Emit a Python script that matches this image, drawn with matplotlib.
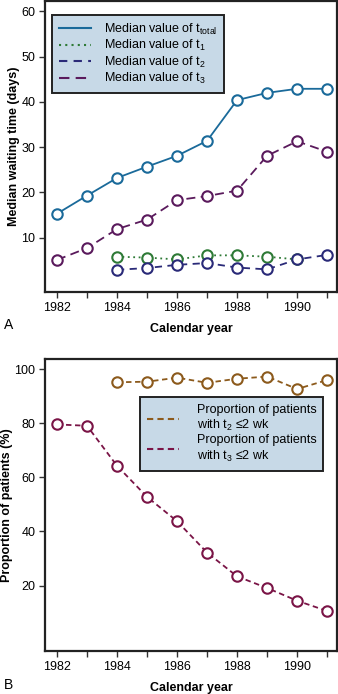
import matplotlib
matplotlib.use("Agg")
import matplotlib.pyplot as plt

plt.rcParams['font.family'] = ['Liberation Sans', 'DejaVu Sans']
plt.rcParams['mathtext.fontset'] = 'custom'
plt.rcParams['mathtext.rm'] = 'Liberation Sans'
plt.rcParams['mathtext.it'] = 'Liberation Sans'

# panel A: median waiting times (days)
years = [1982, 1983, 1984, 1985, 1986, 1987, 1988, 1989, 1990, 1991]
t_total = [15.3, 19.3, 23.2, 25.7, 28.1, 31.4, 40.4, 42.0, 42.9, 42.9]
t3 = [5.1, 7.7, 11.9, 14.0, 18.3, 19.2, 20.4, 28.1, 31.3, 29.0]
years_t1 = [1984, 1985, 1986, 1987, 1988, 1989, 1990]
t1 = [5.8, 5.6, 5.2, 6.1, 6.1, 5.8, 5.2]
years_t2 = [1984, 1985, 1986, 1987, 1988, 1989, 1990, 1991]
t2 = [2.9, 3.3, 4.0, 4.4, 3.4, 3.0, 5.2, 6.2]

# panel B: proportion of patients within 2 weeks (%)
years_p2 = [1984, 1985, 1986, 1987, 1988, 1989, 1990, 1991]
p_t2 = [95.2, 95.4, 96.9, 95.0, 96.5, 97.3, 92.7, 96.0]
p_t3 = [79.6, 79.1, 64.3, 52.8, 43.8, 32.2, 23.4, 19.1, 14.4, 10.6]

W, H = 338, 694
FS = 9
fig = plt.figure(figsize=(W / 100, H / 100), dpi=100)


def px_axes(left, top, right, bottom):
    return fig.add_axes([left / W, 1 - bottom / H, (right - left) / W, (bottom - top) / H])


def style(ax):
    for s in ax.spines.values():
        s.set_linewidth(1.6)
        s.set_color('#222222')
    ax.set_xlim(1981.6, 1991.33)
    ax.set_xticks(years)
    ax.set_xticklabels([str(y) if y % 2 == 0 else '' for y in years])
    ax.tick_params(direction='out', length=4, width=1, labelsize=FS, color='#333333', pad=3)
    ax.set_xlabel('Calendar year', fontsize=FS, fontweight='bold', labelpad=7)


def add_legend(ax, styles, labels, anchor, textpad=1.0):
    handles = [plt.Line2D([], [], color=c, ls=ls, lw=1.5) for c, ls in styles]
    leg = ax.legend(handles, labels, loc='upper left', bbox_to_anchor=anchor, fontsize=FS,
                    fancybox=False, framealpha=1, facecolor='#c7d9e7', edgecolor='#222222',
                    handlelength=2.6, handletextpad=textpad, labelspacing=0.1, borderpad=0.55,
                    borderaxespad=0)
    leg.get_frame().set_linewidth(1.4)


mk = dict(marker='o', markersize=7.5, markerfacecolor='white', markeredgewidth=1.5)

c_tot, c_t1, c_t2, c_t3 = '#1a6a9a', '#2e7a36', '#2a2a78', '#5a1a5c'
ls_tot, ls_t1, ls_t2, ls_t3 = '-', (0, (1, 2)), (0, (4, 3)), (0, (5, 3))

# ---- panel A
ax1 = px_axes(45, 1, 337, 292)
ax1.plot(years, t_total, color=c_tot, lw=1.3, ls=ls_tot, **mk)
ax1.plot(years_t1, t1, color=c_t1, lw=1.3, ls=ls_t1, **mk)
ax1.plot(years_t2, t2, color=c_t2, lw=1.3, ls=ls_t2, **mk)
ax1.plot(years, t3, color=c_t3, lw=1.3, ls=ls_t3, **mk)
ax1.set_ylim(-2, 62.3)
ax1.set_yticks([10, 20, 30, 40, 50, 60])
ax1.set_ylabel('Median waiting time (days)', fontsize=FS, fontweight='bold', labelpad=1)
style(ax1)
add_legend(ax1, [(c_tot, ls_tot), (c_t1, ls_t1), (c_t2, ls_t2), (c_t3, ls_t3)],
           [r'Median value of t$_{\mathrm{total}}$', r'Median value of t$_1$',
            r'Median value of t$_2$', r'Median value of t$_3$'], (0.024, 0.952))

# ---- panel B
c_p2, c_p3 = '#8c5a1c', '#7a1446'
ls_p = (0, (3, 2))
ax2 = px_axes(45, 359, 337, 651)
ax2.plot(years_p2, p_t2, color=c_p2, lw=1.3, ls=ls_p, **mk)
ax2.plot(years, p_t3, color=c_p3, lw=1.3, ls=ls_p, **mk)
ax2.set_ylim(-4.2, 103.8)
ax2.set_yticks([20, 40, 60, 80, 100])
ax2.set_ylabel('Proportion of patients (%)', fontsize=FS, fontweight='bold', labelpad=1)
style(ax2)
add_legend(ax2, [(c_p2, ls_p), (c_p3, ls_p)],
           ['Proportion of patients\nwith t$_2$ \u22642 wk',
            'Proportion of patients\nwith t$_3$ \u22642 wk'], (0.325, 0.87), textpad=1.4)

fig.text(4 / W, 1 - 325 / H, 'A', fontsize=10, va='center', ha='left')
fig.text(4 / W, 1 - 685 / H, 'B', fontsize=10, va='center', ha='left')

fig.savefig('out.png', dpi=100)
